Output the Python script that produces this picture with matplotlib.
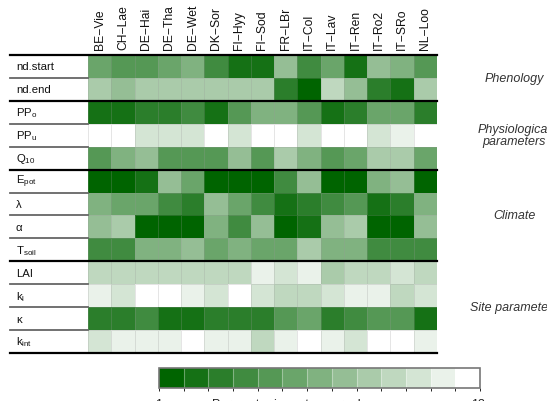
import numpy as np
import matplotlib
matplotlib.use('Agg')
import matplotlib.pyplot as plt
from matplotlib.colors import ListedColormap, BoundaryNorm, to_rgb
from matplotlib.lines import Line2D
import matplotlib.transforms as mtransforms
import matplotlib.cm as cm

plt.rcParams['font.family'] = ['Liberation Sans', 'DejaVu Sans']
plt.rcParams['mathtext.fontset'] = 'custom'
plt.rcParams['mathtext.rm'] = 'Liberation Sans'
plt.rcParams['mathtext.it'] = 'Liberation Sans:italic'

sites = ['BE\u2212Vie', 'CH\u2212Lae', 'DE\u2212Hai', 'DE\u2212Tha', 'DE\u2212Wet', 'DK\u2212Sor',
         'FI\u2212Hyy', 'FI\u2212Sod', 'FR\u2212LBr', 'IT\u2212Col', 'IT\u2212Lav', 'IT\u2212Ren',
         'IT\u2212Ro2', 'IT\u2212SRo', 'NL\u2212Loo']

params = ['nd.start', 'nd.end', r'PP$_\mathrm{o}$', r'PP$_\mathrm{u}$', r'Q$_\mathrm{10}$',
          r'E$_\mathrm{pot}$', '\u03bb', '\u03b1', r'T$_\mathrm{soil}$', 'LAI',
          r'k$_\mathrm{l}$', '\u03ba', r'k$_\mathrm{int}$']

# importance rank (1 = most important) per parameter, one value per site
rank_nd_start = [6, 5, 5, 6, 7, 4, 2, 2, 8, 4, 6, 2, 8, 7, 5]
rank_nd_end   = [9, 8, 9, 9, 9, 9, 9, 9, 3, 1, 10, 8, 3, 2, 9]
rank_PPo      = [2, 2, 3, 3, 4, 2, 5, 7, 7, 5, 2, 3, 6, 6, 3]
rank_PPu      = [13, 13, 11, 11, 11, 13, 11, 13, 13, 11, 13, 13, 11, 12, 13]
rank_Q10      = [5, 7, 8, 5, 5, 5, 8, 5, 9, 7, 5, 6, 9, 9, 6]
rank_Epot     = [1, 1, 2, 8, 6, 1, 1, 1, 4, 8, 1, 1, 7, 8, 1]
rank_lambda   = [7, 6, 6, 4, 3, 8, 6, 4, 2, 3, 4, 5, 2, 3, 7]
rank_alpha    = [8, 9, 1, 1, 1, 7, 4, 8, 1, 2, 8, 9, 1, 1, 8]
rank_Tsoil    = [4, 4, 7, 7, 8, 6, 7, 6, 6, 9, 7, 7, 4, 4, 4]
rank_LAI      = [10, 10, 10, 10, 10, 10, 10, 12, 11, 12, 9, 10, 10, 11, 10]
rank_kl       = [12, 11, 13, 13, 12, 11, 13, 11, 10, 10, 11, 12, 12, 10, 11]
rank_kappa    = [3, 3, 4, 2, 2, 3, 3, 3, 5, 6, 3, 4, 5, 5, 2]
rank_kint     = [11, 12, 12, 12, 13, 12, 12, 10, 12, 13, 12, 11, 13, 13, 12]

groups = ['Phenology', 'Physiological\nparameters', 'Climate', 'Site parameters']
group_sizes = [2, 3, 4, 4]

M = np.array([rank_nd_start, rank_nd_end, rank_PPo, rank_PPu, rank_Q10, rank_Epot,
              rank_lambda, rank_alpha, rank_Tsoil, rank_LAI, rank_kl, rank_kappa, rank_kint])
nrow, ncol = M.shape
nlev = 13

c0 = np.array(to_rgb('#006400'))
c1 = np.array([1.0, 1.0, 1.0])
cols = [c0 + (c1 - c0) * t for t in np.linspace(0, 1, nlev)]
cmap = ListedColormap(cols)
norm = BoundaryNorm(np.arange(0.5, nlev + 1.5, 1), nlev)

W, H = 547, 402
fig = plt.figure(figsize=(W / 100, H / 100), dpi=100)

def fx(px):
    return px / W

def fy(py):
    return 1 - py / H

x0, x1, y0, y1 = 88, 437, 56, 354
ax = fig.add_axes([fx(x0), fy(y1), fx(x1) - fx(x0), (y1 - y0) / H])
ax.pcolormesh(np.arange(ncol + 1), np.arange(nrow + 1), M, cmap=cmap, norm=norm,
              edgecolors=(0.6, 0.6, 0.6, 0.25), linewidth=0.4)
ax.set_xlim(0, ncol)
ax.set_ylim(nrow, 0)
for s in ax.spines.values():
    s.set_visible(False)
ax.xaxis.tick_top()
ax.set_xticks(np.arange(ncol) + 0.5)
ax.set_xticklabels(sites, rotation=90, fontsize=8.7, color='#111111')
ax.tick_params(axis='x', length=0, pad=4.5)
ax.set_yticks([])

tr = mtransforms.blended_transform_factory(fig.transFigure, ax.transData)
# row labels and thin separators in the label column
for i, p in enumerate(params):
    ax.text(fx(16), i + 0.5, p, transform=tr, ha='left', va='center', fontsize=8.2,
            color='#111111', clip_on=False)
    if i > 0:
        ax.add_line(Line2D([fx(10), fx(x0)], [i, i], transform=tr, color='#666666',
                           lw=1.3, clip_on=False))

# group boundaries
bounds = np.concatenate([[0], np.cumsum(group_sizes)])
for b in bounds:
    ax.add_line(Line2D([fx(10), fx(x1)], [b, b], transform=tr, color='black',
                       lw=1.6, clip_on=False, zorder=5))

# group labels
for g, a, b in zip(groups, bounds[:-1], bounds[1:]):
    ax.text(fx(514), (a + b) / 2, g, transform=tr, ha='center', va='center',
            fontsize=9, style='italic', color='#333333', clip_on=False,
            linespacing=1.0)

# colour bar
cax = fig.add_axes([fx(159), fy(389), fx(480) - fx(159), 20 / H])
sm = cm.ScalarMappable(norm=norm, cmap=cmap)
cb = fig.colorbar(sm, cax=cax, orientation='horizontal', drawedges=True)
cb.outline.set_edgecolor('#777777')
cb.outline.set_linewidth(1.2)
cb.dividers.set_color((1, 1, 1, 0.35))
cb.dividers.set_linewidth(0.8)
cb.set_ticks([])

fig.text(fx(159), fy(399.5), '1', ha='center', va='top', fontsize=9, color='#222222')
fig.text(fx(288), fy(399.5), 'Parameter importance rank', ha='center', va='top',
         fontsize=9, color='#222222')
fig.text(fx(478), fy(399.5), '13', ha='center', va='top', fontsize=9, color='#222222')

fig.savefig('out.png', dpi=100)
